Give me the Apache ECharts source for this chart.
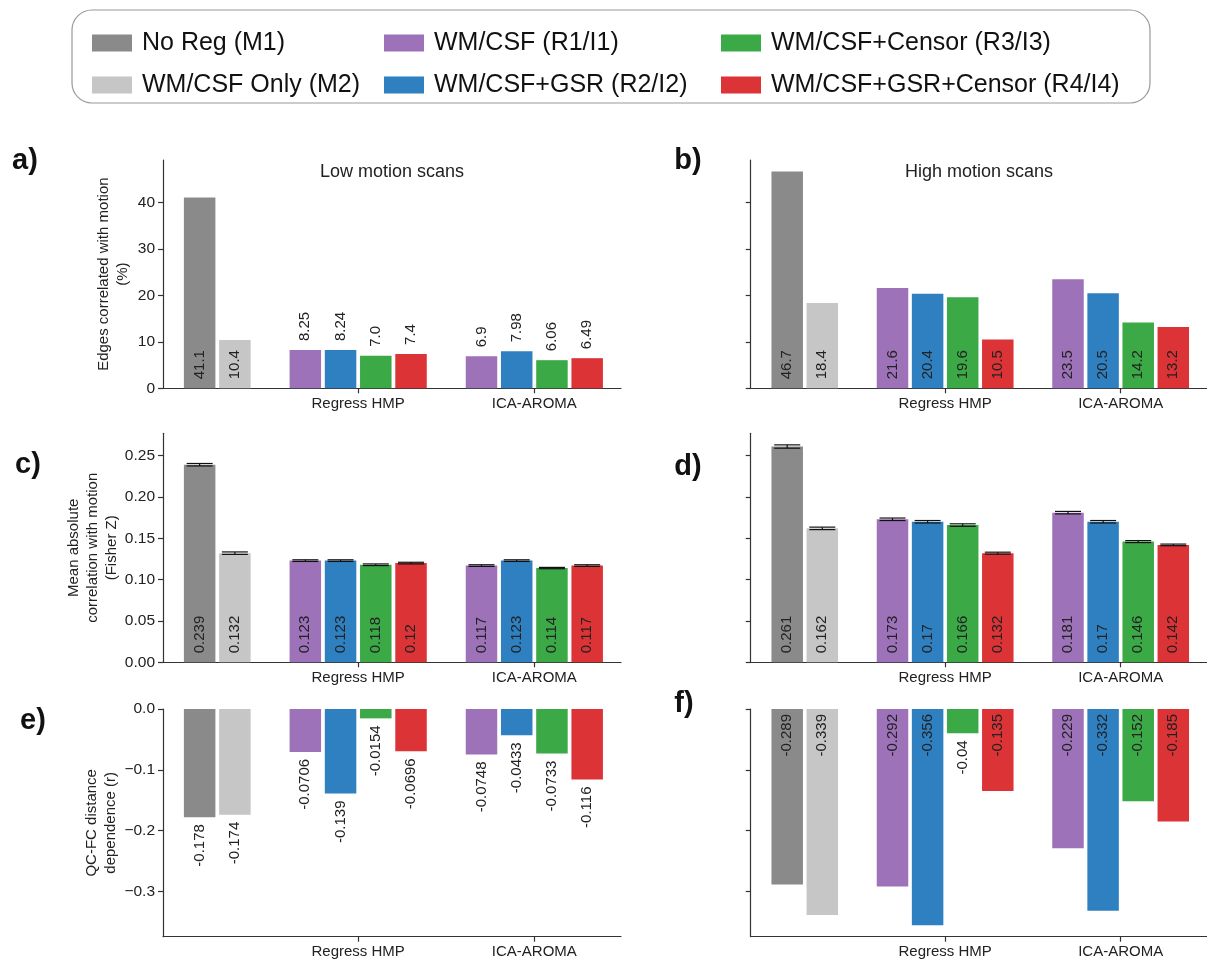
<!DOCTYPE html>
<html><head><meta charset="utf-8">
<script src="https://cdn.jsdelivr.net/npm/echarts@6/dist/echarts.min.js"></script>
<style>html,body{margin:0;padding:0;background:#fff}#c{width:1207px;height:964px}</style>
</head><body><div id="c"></div>
<script>
// ---- data ----
const methods = ['No Reg (M1)', 'WM/CSF Only (M2)', 'WM/CSF (R1/I1)', 'WM/CSF+GSR (R2/I2)', 'WM/CSF+Censor (R3/I3)', 'WM/CSF+GSR+Censor (R4/I4)'];
const groupLabels = ['Regress HMP', 'ICA-AROMA'];
// order of values: M1, M2, R1, R2, R3, R4, I1, I2, I3, I4 (values as printed)
const lowEdges  = ['41.1', '10.4', '8.25', '8.24', '7.0', '7.4', '6.9', '7.98', '6.06', '6.49'];
const highEdges = ['46.7', '18.4', '21.6', '20.4', '19.6', '10.5', '23.5', '20.5', '14.2', '13.2'];
const lowMeanZ  = ['0.239', '0.132', '0.123', '0.123', '0.118', '0.12', '0.117', '0.123', '0.114', '0.117'];
const highMeanZ = ['0.261', '0.162', '0.173', '0.17', '0.166', '0.132', '0.181', '0.17', '0.146', '0.142'];
const lowMeanZErr  = [0.0015, 0.0015, 0.001, 0.001, 0.001, 0.001, 0.001, 0.001, 0.0008, 0.001];
const highMeanZErr = [0.002, 0.0015, 0.0015, 0.0015, 0.0015, 0.0012, 0.0015, 0.0015, 0.0012, 0.001];
const lowQcfc  = ['-0.178', '-0.174', '-0.0706', '-0.139', '-0.0154', '-0.0696', '-0.0748', '-0.0433', '-0.0733', '-0.116'];
const highQcfc = ['-0.289', '-0.339', '-0.292', '-0.356', '-0.04', '-0.135', '-0.229', '-0.332', '-0.152', '-0.185'];
const edgeTicks  = [0, 10, 20, 30, 40];
const meanZTicks = [0, 0.05, 0.10, 0.15, 0.20, 0.25];
const qcfcTicks  = [0, -0.1, -0.2, -0.3];

// ---- layout / style ----
const slotPos = [0, 1, 3, 4, 5, 6, 8, 9, 10, 11];
const methodOf = [0, 1, 2, 3, 4, 5, 2, 3, 4, 5];
const groupPos = [4.5, 9.5];
const colors = ['#8a8a8a', '#c6c6c6', '#9d72b8', '#2f80c0', '#3aa946', '#dc3337'];
const FONT = '"Liberation Sans", Arial, Helvetica, sans-serif';
const TXT = '#222';

const panels = [
  {vals: lowEdges,  err: null, left: 163,   top: 160,   height: 228.3, min: 0, max: 49.2, ticks: edgeTicks, fmt: v => String(v), showLab: true,
   name: 'Edges correlated with motion\n(%)', nameGap: 31, inside: v => v >= 10},
  {vals: highEdges, err: null, left: 750.7, top: 160,   height: 228.3, min: 0, max: 49.2, ticks: edgeTicks, fmt: v => String(v), showLab: false,
   inside: v => v >= 10},
  {vals: lowMeanZ,  err: lowMeanZErr, left: 163,   top: 433.3, height: 229, min: 0, max: 0.277, ticks: meanZTicks, fmt: v => v.toFixed(2), showLab: true,
   name: 'Mean absolute\ncorrelation with motion\n(Fisher Z)', nameGap: 42, inside: v => true},
  {vals: highMeanZ, err: highMeanZErr, left: 750.7, top: 433.3, height: 229, min: 0, max: 0.277, ticks: meanZTicks, fmt: v => v.toFixed(2), showLab: false,
   inside: v => true},
  {vals: lowQcfc,   err: null, left: 163,   top: 709, height: 227.7, min: -0.3747, max: 0, ticks: qcfcTicks, fmt: v => (v < 0 ? '\u2212' : '') + Math.abs(v).toFixed(1), showLab: true,
   name: 'QC-FC distance\ndependence (r)', nameGap: 43, inside: v => false},
  {vals: highQcfc,  err: null, left: 750.7, top: 709, height: 227.7, min: -0.3747, max: 0, ticks: qcfcTicks, fmt: v => (v < 0 ? '\u2212' : '') + Math.abs(v).toFixed(1), showLab: false,
   inside: v => Math.abs(v) >= 0.1}
];

function labelFor(v, inside) {
  const base = {show: true, rotate: 90, verticalAlign: 'middle', fontSize: 15, color: TXT, fontFamily: FONT};
  if (v >= 0) return Object.assign(base, inside ? {position: 'insideBottom', align: 'left', distance: 9} : {position: 'top', align: 'left', distance: 9});
  return Object.assign(base, inside ? {position: 'insideTop', align: 'right', distance: 5} : {position: 'bottom', align: 'right', distance: 7});
}

const grid = [], xAxis = [], yAxis = [], series = [];
panels.forEach((p, i) => {
  grid.push({left: p.left, top: p.top, width: 458, height: p.height});
  xAxis.push({
    type: 'value', gridIndex: i, min: -1.04, max: 11.96,
    axisLine: {show: true, onZero: false, lineStyle: {color: '#333', width: 1.2}},
    axisTick: {show: true, length: 5, customValues: groupPos, lineStyle: {color: '#333', width: 1.2}},
    axisLabel: {show: true, customValues: groupPos, formatter: v => groupLabels[groupPos.indexOf(v)] || '', fontSize: 15, color: TXT, fontFamily: FONT, margin: 8},
    splitLine: {show: false}
  });
  yAxis.push({
    type: 'value', gridIndex: i, min: p.min, max: p.max,
    axisLine: {show: true, onZero: false, lineStyle: {color: '#333', width: 1.2}},
    axisTick: {show: true, length: 5, customValues: p.ticks, lineStyle: {color: '#333', width: 1.2}},
    axisLabel: {show: p.showLab, customValues: p.ticks, formatter: p.fmt, fontSize: 15.5, color: TXT, fontFamily: FONT, margin: 8},
    splitLine: {show: false},
    name: p.name || '', nameLocation: 'middle', nameGap: p.nameGap || 0,
    nameTextStyle: {fontSize: 15, color: TXT, fontFamily: FONT, lineHeight: 19}
  });
  methods.forEach((m, mi) => {
    const data = [];
    p.vals.forEach((s, k) => {
      if (methodOf[k] !== mi) return;
      const v = Number(s);
      data.push({value: [slotPos[k], v], label: Object.assign(labelFor(v, p.inside(v)), {formatter: () => s})});
    });
    series.push({
      type: 'bar', name: m, xAxisIndex: i, yAxisIndex: i, data: data,
      barWidth: 31.5, barGap: '-100%', itemStyle: {color: colors[mi]}, silent: true, animation: false
    });
  });
  if (p.err) {
    const err = p.err;
    series.push({
      type: 'custom', name: 'err' + i, xAxisIndex: i, yAxisIndex: i, silent: true, animation: false, z: 10,
      data: p.vals.map((s, k) => [slotPos[k], Number(s), err[k]]),
      renderItem: (params, api) => {
        const x = api.value(0), v = api.value(1), e = api.value(2);
        const a = api.coord([x, v + e]), b = api.coord([x, v - e]);
        const hw = 13, st = {stroke: '#111', lineWidth: 1.2};
        return {type: 'group', children: [
          {type: 'line', shape: {x1: a[0], y1: a[1], x2: b[0], y2: b[1]}, style: st},
          {type: 'line', shape: {x1: a[0] - hw, y1: a[1], x2: a[0] + hw, y2: a[1]}, style: st},
          {type: 'line', shape: {x1: b[0] - hw, y1: b[1], x2: b[0] + hw, y2: b[1]}, style: st}
        ]};
      }
    });
  }
});

const legendBase = {orient: 'vertical', top: 24, itemWidth: 40, itemHeight: 17, itemGap: 14, icon: 'rect', selectedMode: false,
  textStyle: {fontSize: 25, color: '#111', fontFamily: FONT, lineHeight: 28, padding: [0, 0, 0, 5]}};
const legend = [
  Object.assign({}, legendBase, {left: 87, data: [methods[0], methods[1]]}),
  Object.assign({}, legendBase, {left: 379, data: [methods[2], methods[3]]}),
  Object.assign({}, legendBase, {left: 716, data: [methods[4], methods[5]]})
];

const letters = [['a)', 25, 161], ['b)', 688, 161], ['c)', 28, 465], ['d)', 688, 467], ['e)', 33, 721], ['f)', 684, 704]];
const graphic = [
  {type: 'rect', shape: {x: 72, y: 10, width: 1078, height: 93, r: 20}, style: {fill: 'none', stroke: '#999', lineWidth: 1.2}, silent: true},
  {type: 'text', x: 392, y: 172, style: {text: 'Low motion scans', fontSize: 18, fontFamily: FONT, fill: TXT, align: 'center', verticalAlign: 'middle'}},
  {type: 'text', x: 979, y: 172, style: {text: 'High motion scans', fontSize: 18, fontFamily: FONT, fill: TXT, align: 'center', verticalAlign: 'middle'}}
].concat(letters.map(l => ({type: 'text', x: l[1], y: l[2], style: {text: l[0], fontSize: 29, fontWeight: 'bold', fontFamily: FONT, fill: '#111', align: 'center', verticalAlign: 'middle'}})));

const chart = echarts.init(document.getElementById('c'), null, {renderer: 'canvas'});
chart.setOption({animation: false, backgroundColor: '#fff', legend, grid, xAxis, yAxis, series, graphic});
</script></body></html>
